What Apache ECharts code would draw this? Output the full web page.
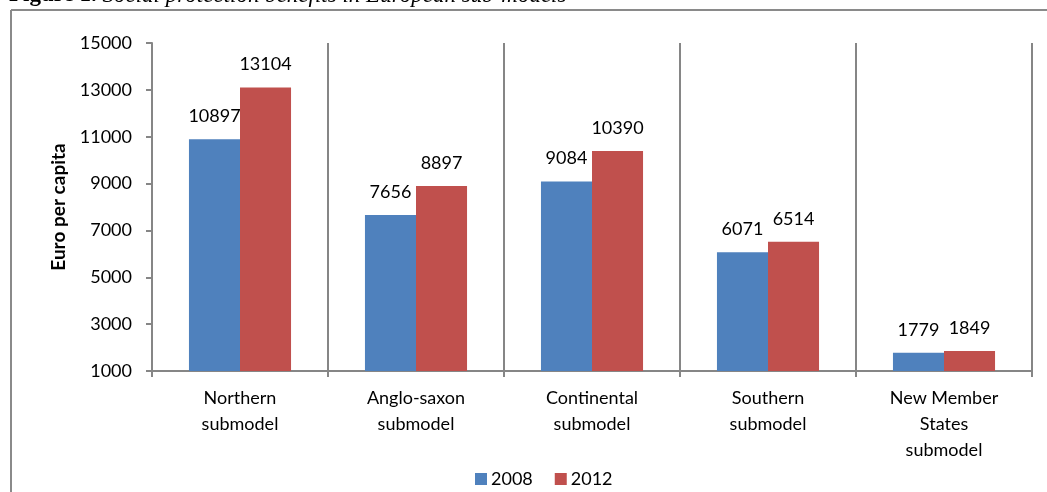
<!DOCTYPE html>
<html>
<head>
<meta charset="utf-8">
<script src="https://cdn.jsdelivr.net/npm/echarts@6/dist/echarts.min.js"></script>
<style>
  html, body { margin: 0; padding: 0; background: #fff; }
  #chart { width: 1047px; height: 492px; }
</style>
</head>
<body>
<div id="chart"></div>
<script>
// Social protection benefits by European welfare sub-model (euro per capita)
const categories = [
  'Northern\nsubmodel',
  'Anglo-saxon\nsubmodel',
  'Continental\nsubmodel',
  'Southern\nsubmodel',
  'New Member\nStates\nsubmodel'
];
const values2008 = [10897, 7656, 9084, 6071, 1779];
const values2012 = [13104, 8897, 10390, 6514, 1849];
const yTicks = { min: 1000, max: 15000, step: 2000 };

const FONT = 'Lato, "Open Sans", sans-serif';
const axisGray = '#868686';

const chart = echarts.init(document.getElementById('chart'), null, { renderer: 'canvas' });

const labelStyle = {
  show: true,
  position: 'top',
  distance: 14,
  color: '#000',
  fontSize: 18,
  fontFamily: FONT
};

chart.setOption({
  animation: false,
  backgroundColor: '#fff',
  grid: { left: 152, right: 15, top: 43, bottom: 121, containLabel: false },
  legend: {
    top: 465,
    left: 470,
    itemWidth: 12,
    itemHeight: 12,
    itemGap: 22,
    icon: 'rect',
    textStyle: { fontSize: 18, fontFamily: FONT, color: '#000', padding: [0, 0, 0, -1] },
    data: ['2008', '2012']
  },
  xAxis: {
    type: 'category',
    data: categories,
    boundaryGap: true,
    axisLine: { lineStyle: { color: axisGray, width: 2 } },
    axisTick: { show: true, inside: false, length: 6, lineStyle: { color: axisGray, width: 2 } },
    splitLine: { show: true, lineStyle: { color: axisGray, width: 2 } },
    axisLabel: {
      color: '#000',
      fontSize: 18,
      fontFamily: FONT,
      lineHeight: 26,
      margin: 14,
      interval: 0
    }
  },
  yAxis: {
    type: 'value',
    min: yTicks.min,
    max: yTicks.max,
    interval: yTicks.step,
    name: 'Euro per capita',
    nameLocation: 'middle',
    nameGap: 84,
    nameTextStyle: { fontSize: 19, fontWeight: 'bold', fontFamily: FONT, color: '#000' },
    axisLine: { show: true, lineStyle: { color: axisGray, width: 2 } },
    axisTick: { show: true, inside: false, length: 6, lineStyle: { color: axisGray, width: 2 } },
    splitLine: { show: false },
    axisLabel: {
      color: '#000',
      fontSize: 18,
      fontFamily: FONT,
      margin: 20,
      formatter: (v) => String(v)
    }
  },
  series: [
    {
      name: '2008',
      type: 'bar',
      data: values2008,
      barGap: '0%',
      barCategoryGap: '42%',
      itemStyle: { color: '#4F81BD' },
      label: labelStyle
    },
    {
      name: '2012',
      type: 'bar',
      data: values2012,
      itemStyle: { color: '#C0504D' },
      label: labelStyle
    }
  ],
  graphic: [
    // outer frame: left and top edges
    { type: 'line', shape: { x1: 11, y1: 10, x2: 11, y2: 492 }, style: { stroke: '#8a8a8a', lineWidth: 2 } },
    { type: 'line', shape: { x1: 11, y1: 10, x2: 1047, y2: 10 }, style: { stroke: '#8a8a8a', lineWidth: 2 } },
    // figure caption above the frame
    {
      type: 'text',
      left: 9,
      top: -16,
      style: {
        text: '{b|Figure 1.}{i| Social protection benefits in European sub-models}',
        rich: {
          b: { fontFamily: '"Liberation Serif", serif', fontWeight: 'bold', fontSize: 23, fill: '#000' },
          i: { fontFamily: '"Liberation Serif", serif', fontStyle: 'italic', fontSize: 23, fill: '#000' }
        }
      }
    }
  ]
});
</script>
</body>
</html>
